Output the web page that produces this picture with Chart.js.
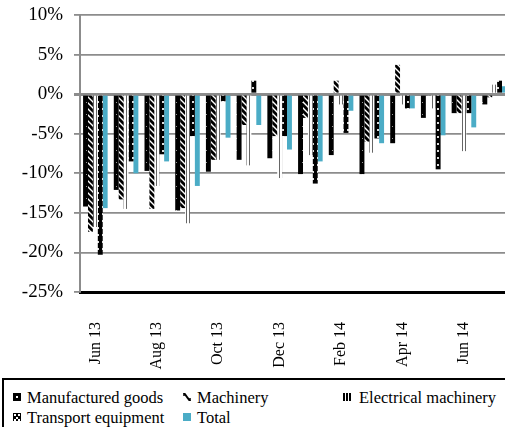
<!DOCTYPE html>
<html>
<head>
<meta charset="utf-8">
<script src="https://cdn.jsdelivr.net/npm/chart.js@4"></script>
<style>
  body { margin: 0; width: 505px; height: 427px; overflow: hidden; background: #fff; font-family: "Liberation Serif", Tinos, "DejaVu Serif", serif; }
  #wrap { position: relative; width: 510px; height: 377px; }
  #legend { position: absolute; left: 2px; top: 378px; width: 520px; height: 60px; border-top: 2px solid #000; border-left: 2px solid #000; }
  .item { position: absolute; font-size: 16.5px; line-height: 18px; color: #000; white-space: nowrap; }
  .item canvas { position: absolute; left: -14px; top: 4px; }
</style>
</head>
<body>
<div id="wrap"><canvas id="chart" width="510" height="377"></canvas></div>
<div id="legend"></div>
<script>
let months = ["Jun 13", "Jul 13", "Aug 13", "Sep 13", "Oct 13", "Nov 13", "Dec 13",
  "Jan 14", "Feb 14", "Mar 14", "Apr 14", "May 14", "Jun 14", "Jul 14"];
let tickLabels = ["Jun 13", "", "Aug 13", "", "Oct 13", "", "Dec 13",
  "", "Feb 14", "", "Apr 14", "", "Jun 14", ""];

let manufactured = [-14.2, -12.1, -9.7, -14.7, -9.8, -8.3, -8.1, -10.1, -7.7, -10.1, -6.2, -3.0, -2.4, -1.3];
let machinery = [-17.4, -13.3, -14.5, -14.4, -8.3, -3.9, -5.3, -3.0, 1.7, -6.0, 3.7, -0.2, -2.4, -0.4];
let electrical = [-16.8, -14.5, -11.6, -16.3, -8.3, -9.0, -10.6, -7.7, -1.3, -7.4, -1.3, -1.8, -7.2, 1.2];
let transport = [-20.3, -8.5, -7.6, -5.3, -0.9, 1.7, -5.3, -11.3, -4.9, -5.6, -1.8, -9.5, -2.4, 1.7];
let total = [-14.4, -10.0, -8.5, -11.6, -5.5, -3.9, -7.0, -8.5, -2.1, -6.2, -1.8, -5.2, -4.2, 1.0];

let serif = "'Liberation Serif', Tinos, 'DejaVu Serif', serif";

function makePattern(w, h, draw) {
  let c = document.createElement("canvas");
  c.width = w;
  c.height = h;
  let g = c.getContext("2d");
  draw(g, w, h);
  return c;
}

// fills
let dotsSmall = makePattern(6, 12, (g, w, h) => {
  g.fillStyle = "#000"; g.fillRect(0, 0, w, h);
  g.fillStyle = "#999"; g.fillRect(2, 6, 1, 1);
});
let stripes = makePattern(6, 6, (g, w, h) => {
  g.fillStyle = "#fff"; g.fillRect(0, 0, w, h);
  g.strokeStyle = "#000"; g.lineWidth = 2.8;
  for (let k = -1; k <= 1; k++) {
    g.beginPath(); g.moveTo(k * 6 - 1, -1); g.lineTo(k * 6 + 7, 7); g.stroke();
  }
});
let vlines = makePattern(3, 4, (g, w, h) => {
  g.fillStyle = "#fff"; g.fillRect(0, 0, w, h);
  g.fillStyle = "#666"; g.fillRect(0, 0, 1, h);
});
let dotsBig = makePattern(5, 7, (g, w, h) => {
  g.fillStyle = "#000"; g.fillRect(0, 0, w, h);
  g.fillStyle = "#ddd"; g.fillRect(2, 3, 2, 2);
});

let ctx = document.getElementById("chart").getContext("2d");
let fills = [
  ctx.createPattern(dotsSmall, "repeat"),
  ctx.createPattern(stripes, "repeat"),
  ctx.createPattern(vlines, "repeat"),
  ctx.createPattern(dotsBig, "repeat"),
  "#4bacc6",
];
let names = ["Manufactured goods", "Machinery", "Electrical machinery", "Transport equipment", "Total"];
let series = [manufactured, machinery, electrical, transport, total];

new Chart(ctx, {
  type: "bar",
  data: {
    labels: months,
    datasets: series.map((d, i) => ({
      label: names[i],
      data: d,
      backgroundColor: fills[i],
      borderWidth: 0,
      categoryPercentage: 0.8,
      barPercentage: 1.0,
    })),
  },
  options: {
    responsive: false,
    animation: false,
    devicePixelRatio: 1,
    layout: { padding: { top: 15, right: 0, left: 0, bottom: 0 } },
    plugins: { legend: { display: false }, tooltip: { enabled: false } },
    scales: {
      x: {
        grid: { display: false },
        border: { display: true, color: "#000", width: 3 },
        ticks: {
          autoSkip: false,
          maxRotation: 90,
          minRotation: 90,
          padding: 22,
          color: "#000",
          font: { family: serif, size: 16 },
          callback: (v, i) => tickLabels[i],
        },
        afterFit: (s) => { s.height = 85; s.paddingLeft = 0; s.paddingRight = 0; },
      },
      y: {
        min: -25,
        max: 10,
        grid: {
          color: "#8c8c8c",
          lineWidth: (c) => (c.tick && c.tick.value === 0 ? 3 : 1.8),
          tickLength: 6,
          tickColor: "#8c8c8c",
        },
        border: { color: "#8c8c8c", width: 2 },
        ticks: {
          stepSize: 5,
          padding: 11,
          color: "#000",
          font: { family: serif, size: 19 },
          callback: (v) => v + "%",
        },
        afterFit: (s) => { s.width = 80; s.paddingTop = 0; s.paddingBottom = 0; },
      },
    },
  },
});

// legend below the chart
let legendPos = [[23, 9], [193, 9], [355, 9], [23, 29], [193, 29]];
let legend = document.getElementById("legend");
names.forEach((n, i) => {
  let el = document.createElement("div");
  el.className = "item";
  el.style.left = legendPos[i][0] + "px";
  el.style.top = legendPos[i][1] + "px";
  el.textContent = n;
  let sw = document.createElement("canvas");
  sw.width = i === 2 ? 10 : 8;
  sw.height = 8;
  if (i === 2) sw.style.left = "-17px";
  let g = sw.getContext("2d");
  if (i === 4) {
    g.fillStyle = "#4bacc6"; g.fillRect(0, 0, 8, 8);
  } else if (i === 0) {
    g.fillStyle = "#000"; g.fillRect(0, 0, 8, 8);
    g.fillStyle = "#fff"; g.fillRect(3, 3, 2, 2);
  } else if (i === 1) {
    g.strokeStyle = "#000"; g.lineWidth = 2;
    g.beginPath(); g.moveTo(1, 0); g.lineTo(7, 8); g.stroke();
    g.lineWidth = 1.5;
    g.beginPath(); g.moveTo(1, 0); g.lineTo(1, 3); g.moveTo(7, 5); g.lineTo(7, 8); g.stroke();
  } else if (i === 2) {
    g.fillStyle = "#000";
    g.fillRect(1, 0, 2, 8); g.fillRect(4, 0, 2, 8); g.fillRect(7, 0, 2, 8);
  } else {
    g.fillStyle = "#000"; g.fillRect(0, 0, 8, 8);
    g.fillStyle = "#fff"; g.fillRect(1, 1, 2, 2); g.fillRect(5, 1, 2, 2); g.fillRect(3, 4, 2, 2); g.fillRect(1, 6, 2, 2); g.fillRect(5, 6, 2, 2);
  }
  el.appendChild(sw);
  legend.appendChild(el);
});
</script>
</body>
</html>
